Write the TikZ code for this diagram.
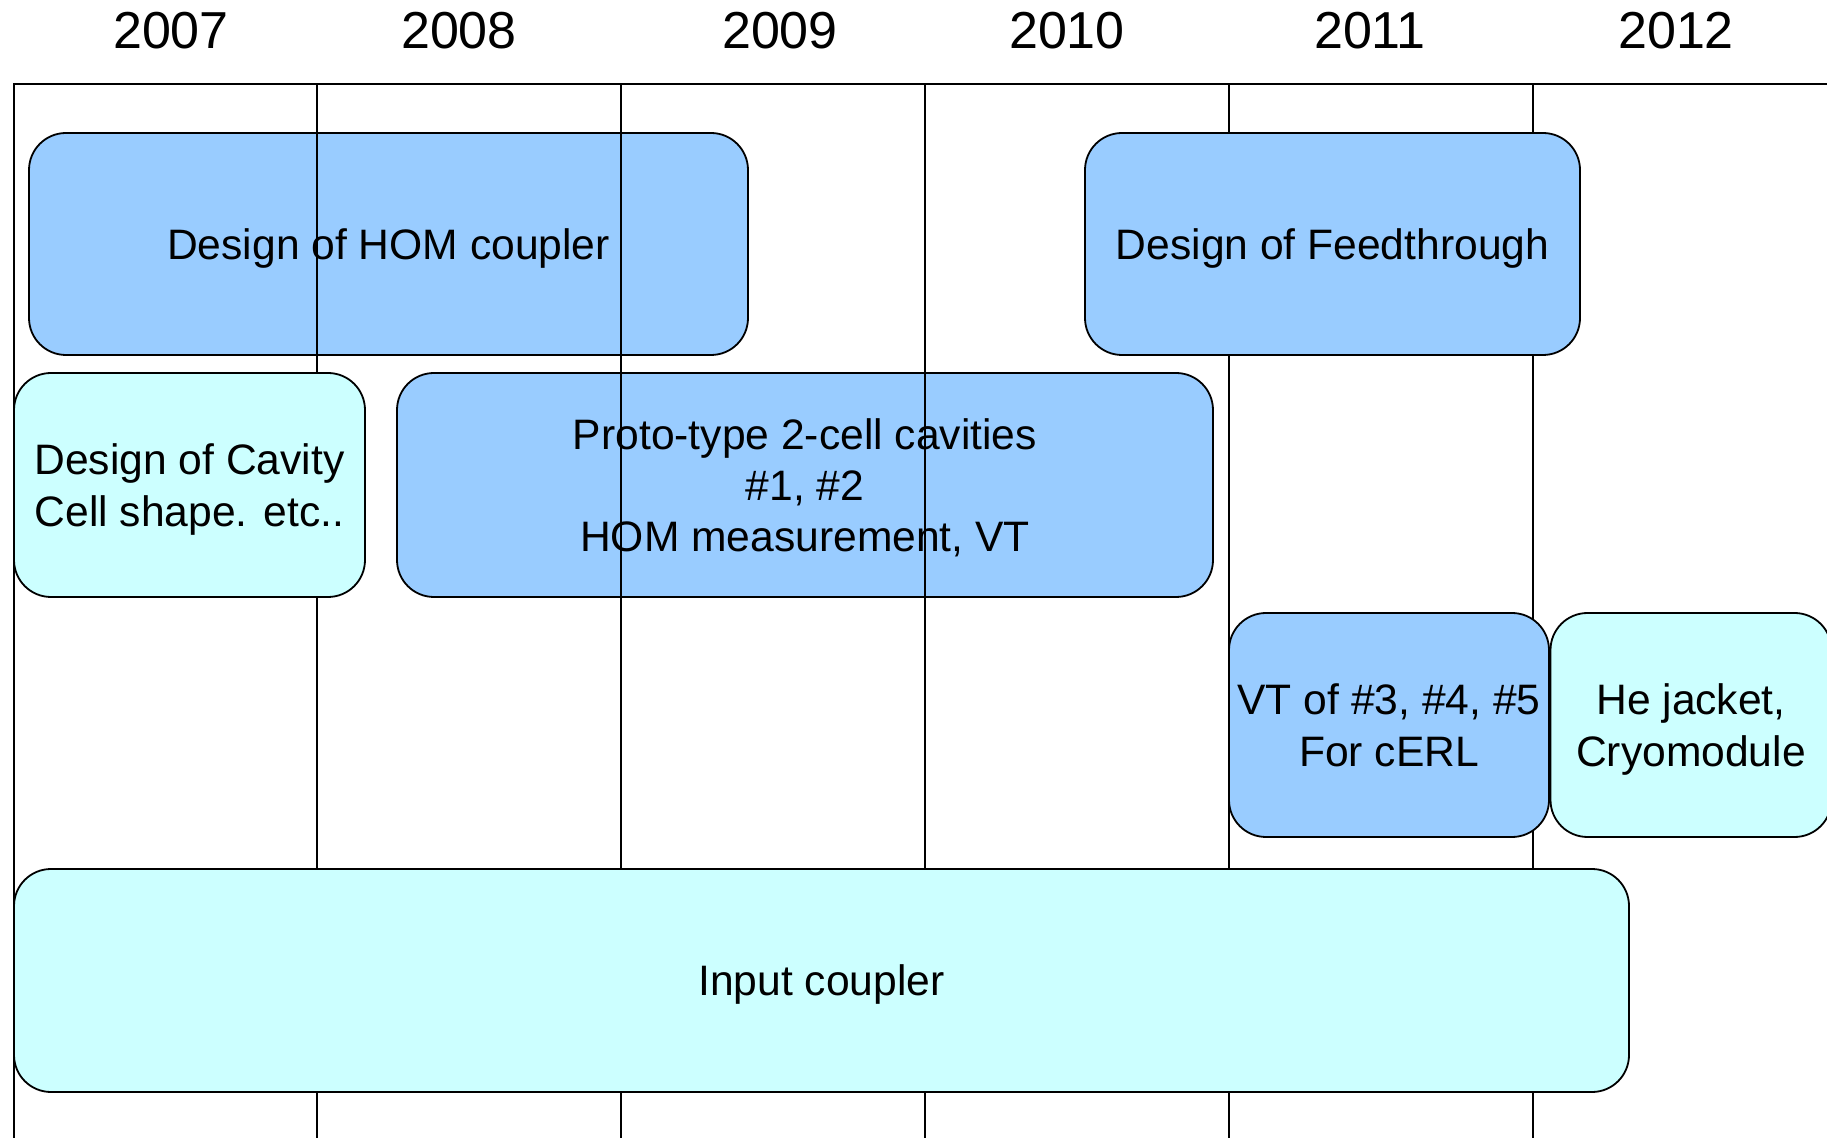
\documentclass[tikz,border=0pt]{standalone}
\usepackage{fontspec}
\setmainfont{Liberation Sans}
\definecolor{planBlue}{HTML}{99CCFF}
\definecolor{planCyan}{HTML}{CCFFFF}
\begin{document}
\begin{tikzpicture}[x=0.5pt, y=-0.5pt,
    boxStyle/.style={rectangle, draw, line width=0.9pt, rounded corners=18.5pt, align=center, inner sep=0pt, text depth=0pt, font=\fontsize{21.3}{25.6}\selectfont},
    blueBox/.style={boxStyle, fill=planBlue},
    cyanBox/.style={boxStyle, fill=planCyan},
    yearStyle/.style={font=\fontsize{26}{31}\selectfont, inner sep=0pt},
    gridStyle/.style={line width=0.9pt}]
    \useasboundingbox (0,0) rectangle (1827,1138);

    % boxes lying under the year grid
    \node[blueBox, minimum width=359.5pt, minimum height=111pt] (hom)   at (388.5, 244) {Design of HOM coupler};
    \node[blueBox, minimum width=408pt,   minimum height=112pt] (proto) at (805, 485) {Proto-type 2-cell cavities\\\#1, \#2\\HOM measurement, VT};

    % year grid
    \draw[gridStyle] (14, 1138) -- (14, 84) -- (1827, 84);
    \foreach \xg in {317, 621, 925, 1229, 1533}
        \draw[gridStyle] (\xg, 84) -- (\xg, 1138);

    \node[yearStyle] (y2007) at (171, 31)  {2007};
    \node[yearStyle] (y2008) at (459, 31)  {2008};
    \node[yearStyle] (y2009) at (780, 31)  {2009};
    \node[yearStyle] (y2010) at (1067, 31) {2010};
    \node[yearStyle] (y2011) at (1370, 31) {2011};
    \node[yearStyle] (y2012) at (1676, 31) {2012};

    % boxes lying over the year grid
    \node[blueBox, minimum width=247.5pt, minimum height=111pt]   (feed)   at (1332.5, 244) {Design of Feedthrough};
    \node[cyanBox, minimum width=175.5pt, minimum height=112pt]   (cavity) at (189.5, 485)  {Design of Cavity\\Cell shape. etc..};
    \node[blueBox, minimum width=160pt,   minimum height=112pt]   (vt)     at (1389, 725)   {VT of \#3, \#4, \#5\\For cERL};
    \node[cyanBox, minimum width=140.5pt, minimum height=112pt]   (jacket) at (1691, 725)   {He jacket,\\Cryomodule};
    \node[cyanBox, minimum width=807.5pt, minimum height=111.5pt] (input)  at (821.5, 980.5) {Input coupler};
\end{tikzpicture}
\end{document}
